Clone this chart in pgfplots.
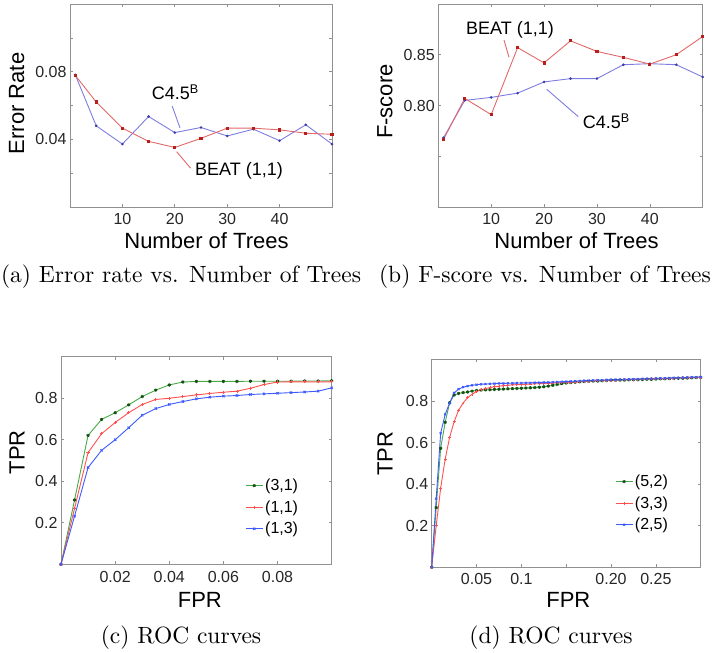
\documentclass[border=0pt]{standalone}
\usepackage{fontspec}
\usepackage{pgfplots}
\pgfplotsset{compat=1.18}
\newfontfamily\hv{Liberation Sans}
\newfontfamily\lmten{lmroman10-regular.otf}
\definecolor{bred}{RGB}{225,105,105}
\definecolor{bredm}{RGB}{185,30,30}
\definecolor{bblue}{RGB}{125,125,225}
\definecolor{bbluem}{RGB}{60,60,170}
\definecolor{rgreen}{RGB}{70,170,70}
\definecolor{rgreenm}{RGB}{20,80,20}
\definecolor{rred}{RGB}{255,80,80}
\definecolor{rblue}{RGB}{60,90,255}
\definecolor{boxgray}{RGB}{145,145,145}
\pgfplotsset{
  base/.style={
    scale only axis, anchor=south west,
    axis line style={draw=boxgray, line width=0.8bp},
    tick style={draw=boxgray, line width=0.6bp},
    major tick length=3bp, tick align=inside,
    /pgf/number format/assume math mode=true,
    tick label style={font=\hv\fontsize{16bp}{18bp}\selectfont, text=black!85},
    xticklabel style={yshift=-3bp},
    label style={font=\hv\fontsize{22bp}{24bp}\selectfont},
    xlabel style={anchor=center},
    ylabel style={anchor=center},
  },
}
\tikzset{annot/.style={font=\hv\fontsize{18bp}{20bp}\selectfont, anchor=base west, inner sep=0pt}}
\newcommand\capfont{\lmten\fontsize{23.5bp}{28bp}\selectfont}
\begin{document}
\begin{tikzpicture}
\path[use as bounding box] (0bp,0bp) rectangle (723bp,-653bp);

% (a)
\begin{axis}[base, at={(70bp,-207bp)}, width=262bp, height=203bp,
  xmin=0, xmax=50, ymin=0, ymax=0.12,
  xtick={10,20,30,40}, xticklabels={10,20,30,40},
  ytick={0.02,0.04,0.06,0.08,0.1}, yticklabels={{},0.04,{},0.08,{}},
  xlabel={Number of Trees}, ylabel={Error Rate},
  xlabel style={at={(axis description cs:0.521,-0.167)}},
  ylabel style={at={(axis description cs:-0.204,0.51)}}]
\addplot[color=bblue, line width=0.9bp, mark=*, mark size=0.8bp, mark options={draw=bbluem, fill=bbluem}] coordinates {
 (1,0.0782) (5,0.048) (10,0.0372) (15,0.0535) (20,0.044) (25,0.047) (30,0.042) (35,0.046) (40,0.0392) (45,0.0486) (50,0.0372)};
\addplot[color=bred, line width=0.9bp, mark=square*, mark size=1.1bp, mark options={draw=bredm, fill=bredm}] coordinates {
 (1,0.0778) (5,0.0621) (10,0.0466) (15,0.0388) (20,0.0352) (25,0.0406) (30,0.0466) (35,0.0466) (40,0.0456) (45,0.0436) (50,0.043)};
\node[annot] at (axis cs:15.6,0.0633) {C4.5\textsuperscript{B}};
\draw[bblue, line width=0.9bp] (axis cs:19.5,0.0597) -- (axis cs:21.0,0.0467);
\node[annot] at (axis cs:23.85,0.0189) {BEAT (1,1)};
\draw[bred, line width=0.9bp] (axis cs:20.36,0.0327) -- (axis cs:23.03,0.0229);
\end{axis}

% (b)
\begin{axis}[base, at={(438.3bp,-207bp)}, width=264.4bp, height=203bp,
  xmin=0, xmax=50, ymin=0.7, ymax=0.9,
  xtick={10,20,30,40}, xticklabels={10,20,30,40},
  ytick={0.75,0.8,0.85}, yticklabels={{},0.80,0.85},
  xlabel={Number of Trees}, ylabel={F-score},
  xlabel style={at={(axis description cs:0.523,-0.167)}},
  ylabel style={at={(axis description cs:-0.2016,0.519)}}]
\addplot[color=bblue, line width=0.9bp, mark=*, mark size=0.8bp, mark options={draw=bbluem, fill=bbluem}] coordinates {
 (1,0.7683) (5,0.805) (10,0.808) (15,0.8122) (20,0.8232) (25,0.8265) (30,0.8265) (35,0.8402) (40,0.8412) (45,0.8402) (50,0.8281)};
\addplot[color=bred, line width=0.9bp, mark=square*, mark size=1.1bp, mark options={draw=bredm, fill=bredm}] coordinates {
 (1,0.7667) (5,0.807) (10,0.791) (15,0.857) (20,0.842) (25,0.8637) (30,0.8533) (35,0.8474) (40,0.8408) (45,0.85) (50,0.868)};
\node[annot] at (axis cs:5.24,0.8704) {BEAT (1,1)};
\draw[bred, line width=0.9bp] (axis cs:12.42,0.8645) -- (axis cs:13.37,0.8475);
\node[annot] at (axis cs:27.31,0.7775) {C4.5\textsuperscript{B}};
\draw[bblue, line width=0.9bp] (axis cs:20.5,0.816) -- (axis cs:26.47,0.789);
\end{axis}

% (c)
\begin{axis}[base, at={(61bp,-564.3bp)}, width=270.7bp, height=207.6bp,
  xmin=0, xmax=0.1, ymin=0, ymax=1,
  xtick={0.02,0.04,0.06,0.08}, xticklabels={0.02,0.04,0.06,0.08},
  ytick={0.2,0.4,0.6,0.8}, yticklabels={0.2,0.4,0.6,0.8},
  xlabel={FPR}, ylabel={TPR},
  xlabel style={at={(axis description cs:0.513,-0.172)}},
  ylabel style={at={(axis description cs:-0.1625,0.54)}},
  legend style={at={(axis description cs:0.68,0.421)}, anchor=north west, draw=none, fill=none,
    font=\hv\fontsize{16bp}{18bp}\selectfont, row sep=4.5bp, inner sep=0pt},
  legend cell align=left]
\addplot[color=rgreen, line width=0.9bp, mark=asterisk, mark size=1.6bp, mark options={draw=rgreenm, line width=1bp}] coordinates {
 (0,0) (0.005,0.31) (0.01,0.621) (0.015,0.698) (0.02,0.73) (0.025,0.768) (0.03,0.808) (0.035,0.839) (0.04,0.864) (0.045,0.878) (0.05,0.881) (0.055,0.881) (0.06,0.881) (0.065,0.881) (0.07,0.882) (0.075,0.882) (0.08,0.882) (0.085,0.882) (0.09,0.883) (0.095,0.883) (0.1,0.884)};
\addlegendentry{(3,1)}
\addplot[color=rred, line width=0.9bp, mark=+, mark size=1.6bp] coordinates {
 (0,0) (0.005,0.269) (0.01,0.538) (0.015,0.629) (0.02,0.683) (0.025,0.73) (0.03,0.77) (0.035,0.794) (0.04,0.80) (0.045,0.808) (0.05,0.816) (0.055,0.823) (0.06,0.829) (0.065,0.834) (0.07,0.848) (0.075,0.866) (0.08,0.878) (0.085,0.879) (0.09,0.879) (0.095,0.879) (0.1,0.879)};
\addlegendentry{(1,1)}
\addplot[color=rblue, line width=0.9bp, mark=x, mark size=1.6bp] coordinates {
 (0,0) (0.005,0.232) (0.01,0.466) (0.015,0.549) (0.02,0.60) (0.025,0.658) (0.03,0.718) (0.035,0.75) (0.04,0.77) (0.045,0.784) (0.05,0.797) (0.055,0.805) (0.06,0.81) (0.065,0.813) (0.07,0.818) (0.075,0.821) (0.08,0.824) (0.085,0.827) (0.09,0.83) (0.095,0.834) (0.1,0.85)};
\addlegendentry{(1,3)}
\end{axis}

% (d)
\begin{axis}[base, at={(431.7bp,-567.3bp)}, width=269bp, height=208bp,
  xmin=0, xmax=0.3, ymin=0, ymax=1,
  xtick={0.05,0.1,0.15,0.2,0.25}, xticklabels={0.05,0.1,{},0.20,0.25},
  ytick={0.2,0.4,0.6,0.8}, yticklabels={0.2,0.4,0.6,0.8},
  xlabel={FPR}, ylabel={TPR},
  xlabel style={at={(axis description cs:0.508,-0.157)}},
  ylabel style={at={(axis description cs:-0.1736,0.545)}},
  legend style={at={(axis description cs:0.681,0.454)}, anchor=north west, draw=none, fill=none,
    font=\hv\fontsize{16bp}{18bp}\selectfont, row sep=4.5bp, inner sep=0pt},
  legend cell align=left]
\addplot[color=rgreen, line width=0.9bp, mark=asterisk, mark size=1.6bp, mark options={draw=rgreenm, line width=1bp}] coordinates {
 (0,0) (0.005,0.287) (0.01,0.572) (0.015,0.697) (0.02,0.791) (0.025,0.828) (0.03,0.836) (0.035,0.840) (0.04,0.843) (0.045,0.847)
 (0.05,0.850) (0.055,0.852) (0.06,0.853) (0.065,0.854) (0.07,0.855) (0.075,0.856) (0.08,0.857) (0.085,0.858) (0.09,0.859) (0.095,0.860)
 (0.1,0.861) (0.105,0.862) (0.11,0.863) (0.115,0.864) (0.12,0.866) (0.125,0.868) (0.13,0.871) (0.135,0.875) (0.14,0.879) (0.145,0.883)
 (0.15,0.886) (0.155,0.888) (0.16,0.890) (0.165,0.892) (0.17,0.893) (0.175,0.894) (0.18,0.895) (0.185,0.896) (0.19,0.897) (0.195,0.898)
 (0.2,0.899) (0.205,0.899) (0.21,0.900) (0.215,0.900) (0.22,0.901) (0.225,0.902) (0.23,0.902) (0.235,0.903) (0.24,0.904) (0.245,0.904)
 (0.25,0.905) (0.255,0.906) (0.26,0.906) (0.265,0.907) (0.27,0.908) (0.275,0.909) (0.28,0.909) (0.285,0.910) (0.29,0.911) (0.295,0.912) (0.3,0.913)};
\addlegendentry{(5,2)}
\addplot[color=rred, line width=0.9bp, mark=+, mark size=1.4bp] coordinates {
 (0,0) (0.005,0.20) (0.01,0.38) (0.015,0.52) (0.02,0.625) (0.025,0.70) (0.03,0.755) (0.035,0.79) (0.04,0.815) (0.045,0.832)
 (0.05,0.845) (0.055,0.853) (0.06,0.859) (0.065,0.864) (0.07,0.868) (0.075,0.871) (0.08,0.873) (0.085,0.875) (0.09,0.877) (0.095,0.878)
 (0.1,0.879) (0.105,0.880) (0.11,0.881) (0.115,0.882) (0.12,0.883) (0.125,0.884) (0.13,0.885) (0.135,0.886) (0.14,0.887) (0.145,0.888)
 (0.15,0.889) (0.155,0.890) (0.16,0.891) (0.165,0.892) (0.17,0.894) (0.175,0.895) (0.18,0.896) (0.185,0.897) (0.19,0.898) (0.195,0.899)
 (0.2,0.900) (0.205,0.900) (0.21,0.901) (0.215,0.902) (0.22,0.903) (0.225,0.903) (0.23,0.904) (0.235,0.905) (0.24,0.905) (0.245,0.906)
 (0.25,0.907) (0.255,0.907) (0.26,0.908) (0.265,0.909) (0.27,0.909) (0.275,0.910) (0.28,0.911) (0.285,0.911) (0.29,0.912) (0.295,0.913) (0.3,0.913)};
\addlegendentry{(3,3)}
\addplot[color=rblue, line width=0.9bp, mark=x, mark size=1.4bp] coordinates {
 (0,0) (0.005,0.33) (0.01,0.645) (0.015,0.735) (0.02,0.79) (0.025,0.838) (0.03,0.857) (0.035,0.866) (0.04,0.871) (0.045,0.875)
 (0.05,0.878) (0.055,0.880) (0.06,0.881) (0.065,0.882) (0.07,0.883) (0.075,0.884) (0.08,0.884) (0.085,0.885) (0.09,0.885) (0.095,0.886)
 (0.1,0.886) (0.105,0.887) (0.11,0.887) (0.115,0.888) (0.12,0.888) (0.125,0.889) (0.13,0.889) (0.135,0.890) (0.14,0.891) (0.145,0.892)
 (0.15,0.893) (0.155,0.894) (0.16,0.895) (0.165,0.896) (0.17,0.897) (0.175,0.898) (0.18,0.899) (0.185,0.900) (0.19,0.900) (0.195,0.901)
 (0.2,0.902) (0.205,0.902) (0.21,0.903) (0.215,0.903) (0.22,0.904) (0.225,0.905) (0.23,0.905) (0.235,0.906) (0.24,0.907) (0.245,0.907)
 (0.25,0.908) (0.255,0.909) (0.26,0.909) (0.265,0.910) (0.27,0.911) (0.275,0.911) (0.28,0.912) (0.285,0.913) (0.29,0.914) (0.295,0.914) (0.3,0.915)};
\addlegendentry{(2,5)}
\end{axis}

\node[font=\capfont, inner sep=0pt] at (181bp,-277bp) {(a) Error rate vs. Number of Trees};
\node[font=\capfont, inner sep=0pt] at (545bp,-277bp) {(b) F-score vs. Number of Trees};
\node[font=\capfont, inner sep=0pt] at (181bp,-638bp) {(c) ROC curves};
\node[font=\capfont, inner sep=0pt] at (551bp,-638bp) {(d) ROC curves};
\end{tikzpicture}
\end{document}
